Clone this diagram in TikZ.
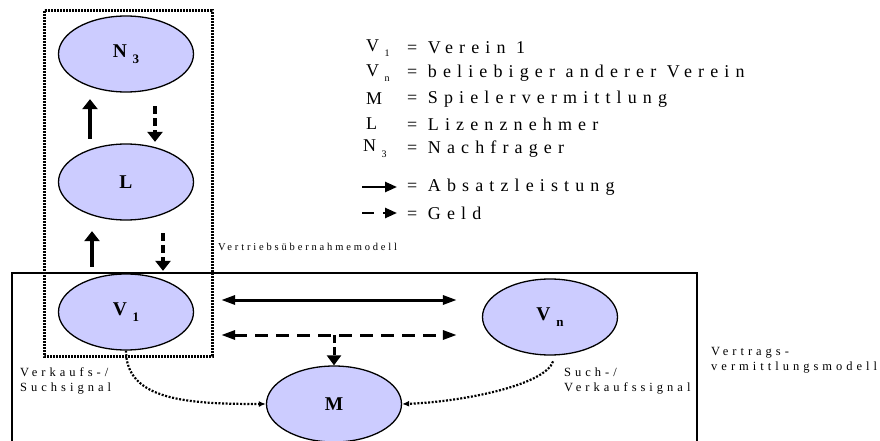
\documentclass[tikz,border=0pt]{standalone}
\usepackage{fontspec}
\setmainfont{Liberation Serif}
\newfontfamily\legfont[LetterSpace=34]{Liberation Serif}
\newfontfamily\notefont[LetterSpace=32]{Liberation Serif}
\newfontfamily\modelfont[LetterSpace=27]{Liberation Serif}
\usetikzlibrary{arrows.meta, positioning, shapes.geometric}

% lowered index next to a symbol
\newcommand{\lowix}[2][13]{\hspace{0.3em}\raisebox{-0.32em}{\fontsize{#1}{#1}\selectfont #2}}

\begin{document}
\begin{tikzpicture}[
  x=1pt, y=-1pt,
  party/.style={draw, ellipse, line width=1.3pt, fill={rgb,255:red,204;green,204;blue,255},
    minimum width=135pt, minimum height=76pt, inner sep=0pt,
    font=\bfseries\fontsize{19.5}{21}\selectfont},
  legend/.style={anchor=west, inner sep=0pt, font=\legfont\fontsize{18}{20}\selectfont},
  note/.style={inner sep=0pt, align=left, font=\notefont\fontsize{12.5}{15}\selectfont},
  absatz/.style={line width=4.5pt, -{Triangle[length=10pt, width=15pt]}},
  geld/.style={absatz, dash pattern=on 8pt off 4pt},
  hsolid/.style={line width=3pt, {Triangle[length=14pt, width=9pt]}-{Triangle[length=14pt, width=9pt]}},
  hdashed/.style={hsolid, dash pattern=on 13pt off 8pt},
  signal/.style={line width=2.2pt, dash pattern=on 2pt off 1.6pt, -{Latex[length=7pt, width=6pt]}},
  frame/.style={line width=1.3pt},
  vbox/.style={line width=3pt, dash pattern=on 2pt off 1pt}
]
\useasboundingbox (0,0) rectangle (880,441);

% models
\draw[frame] (12,460) -- (12,273) -- (697,273) -- (697,460);
\draw[line width=2.2pt] (44,273) -- (212,273);
\draw[vbox] (44,11) rectangle (212,356);

% parties
\node[party] (N3) at (126,54) {N\lowix{3}};
\node[party] (L) at (126,182) {L};
\node[party] (V1) at (126,312) {V\lowix{1}};
\node[party] (Vn) at (550,317) {V\lowix{n}};
\node[party] (M) at (334,404) {M};

% Vertriebsuebernahme
\draw[absatz, shorten <=4.5pt, shorten >=6.5pt] ([xshift=-36pt]L.north) -- ([xshift=-36pt]N3.south);
\draw[geld, shorten <=13.5pt, shorten >=1.5pt] ([xshift=29pt]N3.south) -- ([xshift=29pt]L.north);
\draw[absatz, shorten <=6.5pt, shorten >=10.5pt] ([xshift=-34pt]V1.north) -- ([xshift=-34pt]L.south);
\draw[geld, shorten <=12.5pt, shorten >=2.5pt] ([xshift=37pt]L.south) -- ([xshift=37pt]V1.north);

% Vertragsvermittlung
\coordinate (sa) at ([shift={(27,-12)}]V1.east);
\coordinate (ga) at ([shift={(27,23)}]V1.east);
\draw[hsolid, shorten >=25pt] (sa) -- (sa -| Vn.west);
\draw[hdashed, shorten >=25pt] (ga) -- (ga -| Vn.west);
\draw[geld, line width=3pt, -{Triangle[length=10pt, width=14pt]}] (ga -| M.north) -- (M.north);

\draw[signal] (V1.south) .. controls +(0,50) and +(-77,0) .. (M.west);
\draw[signal, shorten <=6pt] ([xshift=5pt]Vn.south) .. controls +(-10,30) and +(58,-2) .. (M.east);

% labels
\node[inner sep=0pt, anchor=west, font=\modelfont\fontsize{10.5}{12}\selectfont] (vue) at (218,247) {Vertriebsübernahmemodell};
\node[note, anchor=west] (sig1) at (20,381) {Verkaufs-/\\Suchsignal};
\node[note, anchor=west] (sig2) at (564,381) {Such-/\\Verkaufssignal};
\node[note, anchor=west] (vvm) at (711,360) {Vertrags-\\vermittlungsmodell};

% legend
\node[legend] (k1) at (366,48) {V\lowix[10]{1}};
\node[legend] (k2) at (366,73) {V\lowix[10]{n}};
\node[legend] (k3) at (366,99) {M};
\node[legend] (k4) at (366,124) {L};
\node[legend] (k5) at (363,149) {N\lowix[10]{3}};
\node[legend] (t1) at (407,48) {= Verein 1};
\node[legend] (t2) at (407,73) {= beliebiger anderer Verein};
\node[legend] (t3) at (407,99) {= Spielervermittlung};
\node[legend] (t4) at (407,124) {= Lizenznehmer};
\node[legend] (t5) at (407,149) {= Nachfrager};
\node[legend] (t6) at (407,187) {= Absatzleistung};
\node[legend] (t7) at (407,213) {= Geld};
\draw[line width=2.5pt, -{Triangle[length=12pt, width=10pt]}] ([xshift=-45pt]t6.west) -- ([xshift=-10pt]t6.west);
\draw[line width=2.5pt, dash pattern=on 12pt off 9pt, -{Triangle[length=12pt, width=10pt]}] ([xshift=-45pt]t7.west) -- ([xshift=-10pt]t7.west);
\end{tikzpicture}
\end{document}
